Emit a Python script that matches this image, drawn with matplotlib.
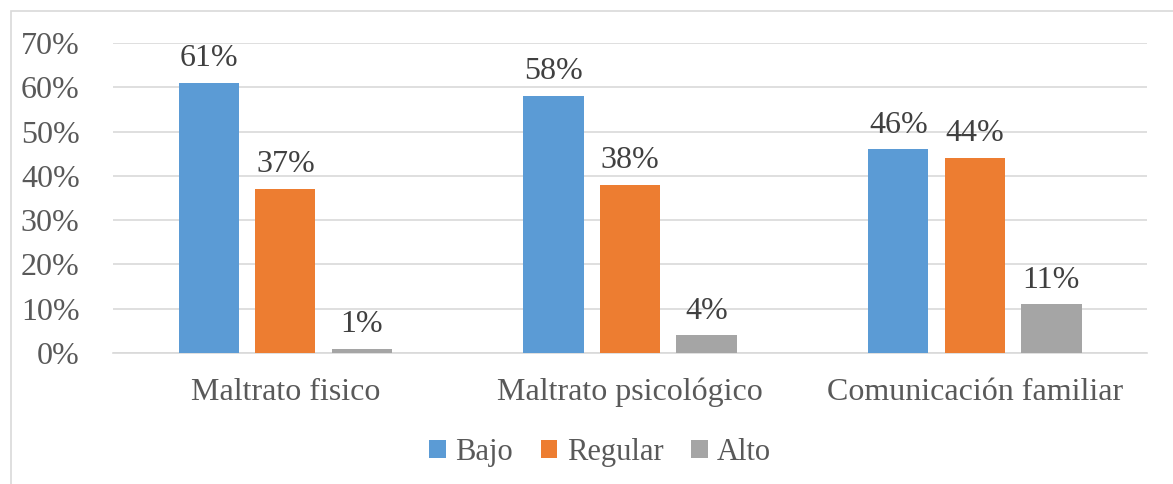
import numpy as np
import matplotlib
matplotlib.use("Agg")
import matplotlib.pyplot as plt
from matplotlib.patches import Rectangle

categories = ["Maltrato fisico", "Maltrato psicológico", "Comunicación familiar"]
series = ["Bajo", "Regular", "Alto"]
bajo = [61, 58, 46]
regular = [37, 38, 44]
alto = [1, 4, 11]
yticks = [0, 10, 20, 30, 40, 50, 60, 70]

colors = ["#5B9BD5", "#ED7D31", "#A5A5A5"]
txt = "#595959"
fs = 23

plt.rcParams['font.family'] = ['Liberation Serif', 'DejaVu Serif']

fig = plt.figure(figsize=(11.73, 4.84), dpi=100)
ax = fig.add_axes([0.0963, 0.2707, 0.8817, 0.6405])

# chart border
fig.patches.append(Rectangle((11 / 1173, -0.01), 1.02, 1 - 11 / 484 + 0.01,
                             transform=fig.transFigure, fill=False,
                             edgecolor="#D9D9D9", linewidth=1.2))

x = np.arange(len(categories))
width = 0.175
offset = 0.222
for i, (name, vals) in enumerate(zip(series, [bajo, regular, alto])):
    bars = ax.bar(x + (i - 1) * offset, vals, width, color=colors[i], label=name, zorder=3)
    for b, v in zip(bars, vals):
        ax.text(b.get_x() + b.get_width() / 2, v + 2.2, f"{v}%", ha="center", va="bottom",
                fontsize=fs, color="#404040")

ax.set_xlim(-0.5, 2.5)
ax.set_ylim(0, 70)
ax.set_yticks(yticks)
ax.set_yticklabels([f"{t}%" for t in yticks])
ax.set_xticks(x)
ax.set_xticklabels(categories)
ax.yaxis.grid(True, color="#D9D9D9", linewidth=1.2, zorder=0)
for s in ["top", "right", "left"]:
    ax.spines[s].set_visible(False)
ax.spines["bottom"].set_color("#D9D9D9")
ax.spines["bottom"].set_linewidth(1.2)
ax.tick_params(axis="both", length=0, labelsize=fs, colors=txt)
ax.tick_params(axis="y", pad=24)
ax.tick_params(axis="x", pad=18)

leg = ax.legend(loc="upper center", bbox_to_anchor=(0.471, -0.185), ncol=3, frameon=False,
                fontsize=22, handlelength=0.55, handleheight=0.55, handletextpad=0.3,
                columnspacing=0.9)
for t in leg.get_texts():
    t.set_color(txt)

fig.savefig("out.png", dpi=100)
